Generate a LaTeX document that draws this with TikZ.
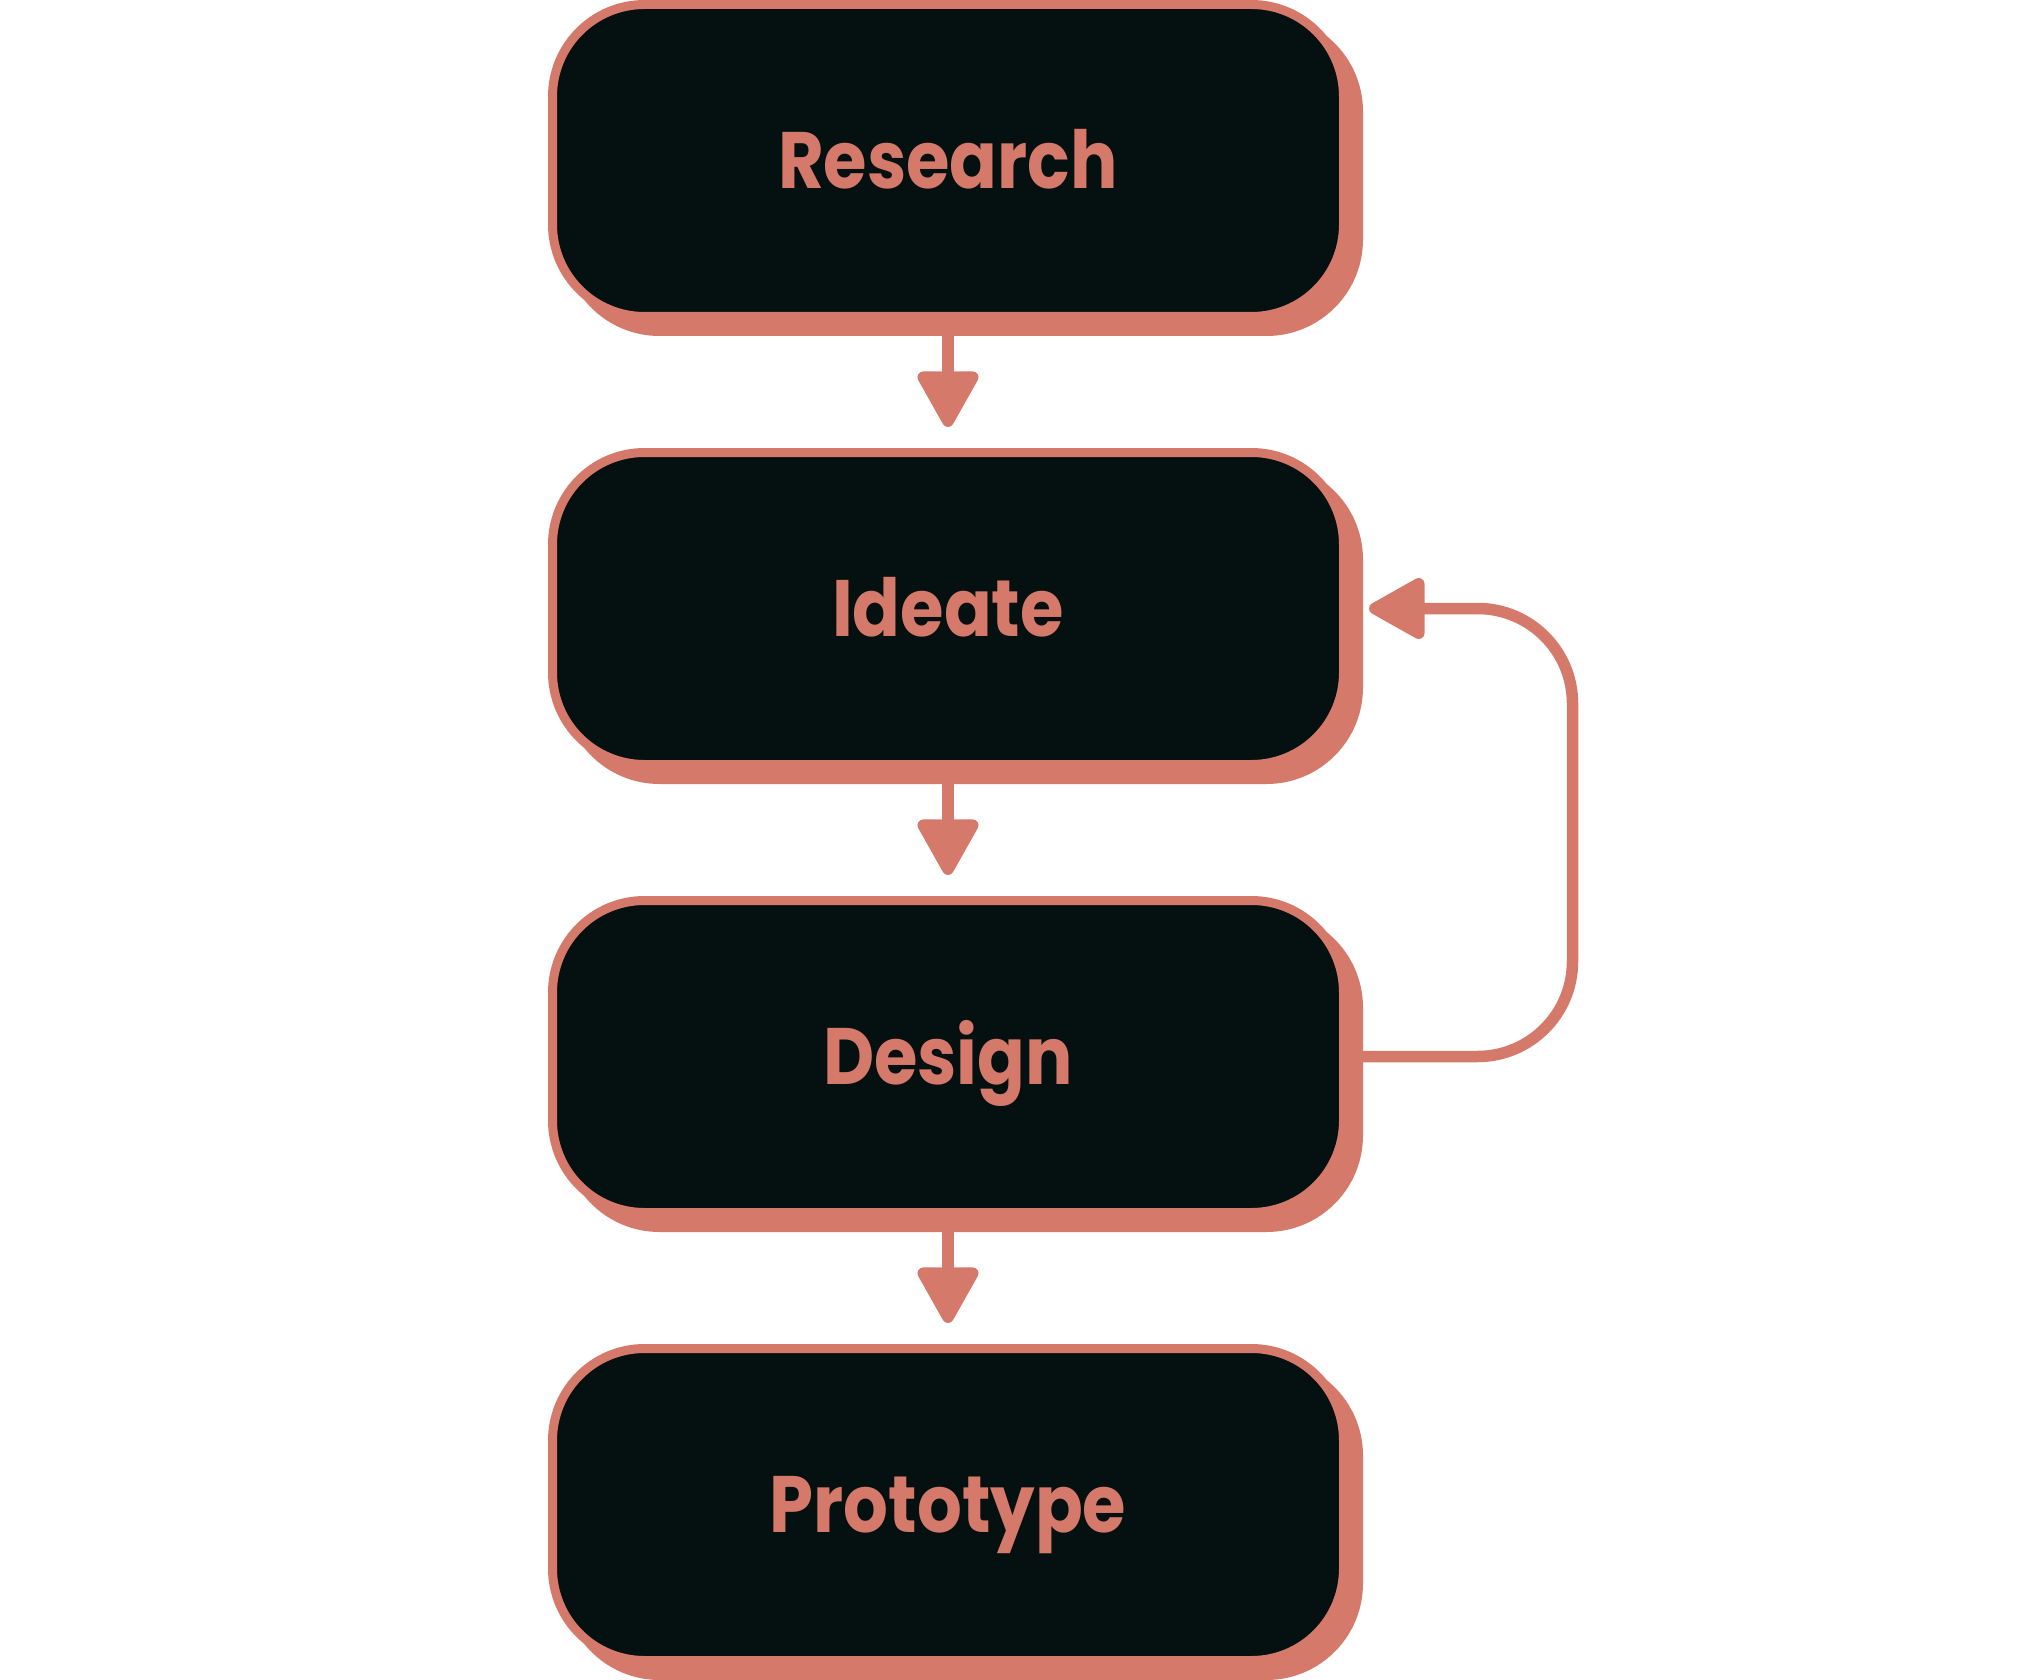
\documentclass[tikz,border=0pt]{standalone}
\usepackage{fontspec}
\newfontfamily\stagefont{Poppins}[FakeStretch=0.88]
\usetikzlibrary{arrows.meta,shadows}
\definecolor{clay}{RGB}{213,122,106}
\definecolor{ink}{RGB}{5,16,16}
\tikzset{
  stage/.style={draw=clay, line width=4.5pt, fill=ink, rounded corners=46pt,
    minimum width=395.5pt, minimum height=156pt, text=clay,
    font=\stagefont\bfseries\fontsize{40}{44}\selectfont,
    text height=28pt, text depth=0pt,
    drop shadow={shadow xshift=7.5pt, shadow yshift=-7.5pt, fill=clay,
      draw=clay, line width=4.5pt, opacity=1}},
  flow/.style={draw=clay, line width=5.75pt,
    -{Triangle[length=31pt,width=33pt,round]}, shorten >=10.5pt}
}
\begin{document}
\begin{tikzpicture}[x=0.5pt,y=0.5pt,yscale=-1]
\path (0,0) rectangle (2020,1680); %diagram size

%Shape: stages
\node [stage] (research) at (948,160.5) {Research};
\node [stage] (ideate) at (948,608.5) {Ideate};
\node [stage] (design) at (948,1056.5) {Design};
\node [stage] (prototype) at (948,1504.5) {Prototype};

%Straight Lines
\draw [flow] (research.south) -- (ideate.north);
\draw [flow] (ideate.south) -- (design.north);
\draw [flow] (design.south) -- (prototype.north);

%Loop back
\coordinate (loop) at (1572.5,832);
\draw [flow, rounded corners=47.5pt] (design.east) -| (loop) |- (ideate.east);

\end{tikzpicture}
\end{document}
